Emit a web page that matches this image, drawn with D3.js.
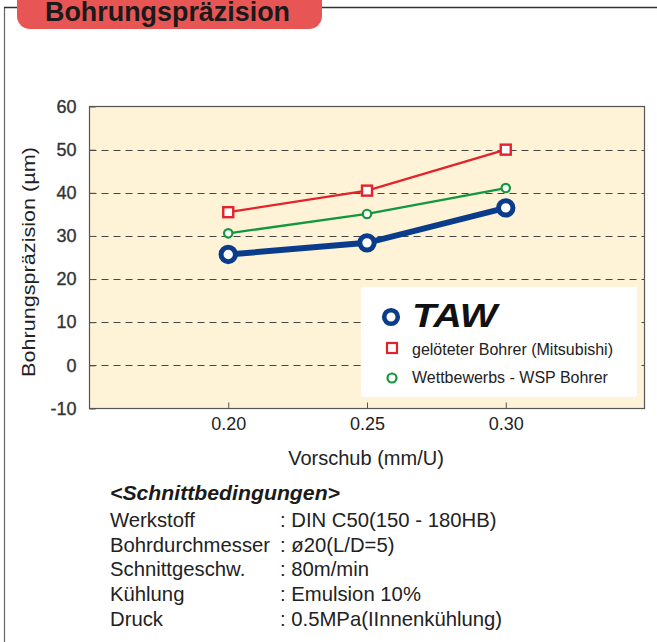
<!DOCTYPE html>
<html>
<head>
<meta charset="utf-8">
<script src="https://cdn.jsdelivr.net/npm/d3@7"></script>
<style>
  body { margin: 0; background: #fff; }
  text { font-family: "Liberation Sans", Arial, sans-serif; }
</style>
</head>
<body>
<div id="content"></div>
<script>
// daten
var feeds = [0.20, 0.25, 0.30];
var taw = [25.7, 28.4, 36.5];
var mitsubishi = [35.5, 40.5, 50.0];
var wsp = [30.6, 35.1, 41.1];
var yTicks = [-10, 0, 10, 20, 30, 40, 50, 60];
var gridTicks = [0, 10, 20, 30, 40, 50];
var xTicks = [0.20, 0.25, 0.30];
var conditions = [
  ["Werkstoff", ": DIN C50(150 - 180HB)"],
  ["Bohrdurchmesser", ": ø20(L/D=5)"],
  ["Schnittgeschw.", ": 80m/min"],
  ["Kühlung", ": Emulsion 10%"],
  ["Druck", ": 0.5MPa(IInnenkühlung)"]
];

var width = 657;
var height = 642;

var svg = d3.select("#content")
  .append("svg")
  .attr("width", width)
  .attr("height", height);

// rahmen + titel
svg.append("line").attr("x1", 4.5).attr("x2", 4.5).attr("y1", 7).attr("y2", height)
  .attr("stroke", "#666").attr("stroke-width", 1.2);
svg.append("line").attr("x1", 4).attr("x2", width).attr("y1", 7.5).attr("y2", 7.5)
  .attr("stroke", "#333").attr("stroke-width", 1.5);
svg.append("rect").attr("x", 17).attr("y", -16).attr("width", 305).attr("height", 45)
  .attr("rx", 13).attr("fill", "#E85555");
svg.append("text").attr("x", 45).attr("y", 21)
  .attr("font-size", 27).attr("font-weight", "bold").attr("fill", "#1a1a1a")
  .attr("textLength", 245).attr("lengthAdjust", "spacingAndGlyphs")
  .text("Bohrungspräzision");

// plot
var plotLeft = 89.5, plotRight = 644.5, plotTop = 106.5, plotBottom = 408.5;

var x = d3.scaleLinear().domain([0.15, 0.35]).range([plotLeft, plotRight]);
var y = d3.scaleLinear().domain([-10, 60]).range([plotBottom, plotTop]);

svg.append("rect").attr("x", plotLeft).attr("y", plotTop)
  .attr("width", plotRight - plotLeft).attr("height", plotBottom - plotTop)
  .attr("fill", "#FEF3D7");

svg.append("g").selectAll("line").data(gridTicks).enter().append("line")
  .attr("x1", plotLeft).attr("x2", plotRight)
  .attr("y1", function(d) { return Math.round(y(d)) + 0.5; })
  .attr("y2", function(d) { return Math.round(y(d)) + 0.5; })
  .attr("stroke", "#444").attr("stroke-width", 1.2)
  .attr("stroke-dasharray", "7,5");

// legende box
svg.append("rect").attr("x", 361).attr("y", 287).attr("width", 276).attr("height", 110)
  .attr("fill", "#fff");

svg.append("rect").attr("x", plotLeft).attr("y", plotTop)
  .attr("width", plotRight - plotLeft).attr("height", plotBottom - plotTop)
  .attr("fill", "none").attr("stroke", "#555").attr("stroke-width", 1.2);

var yAxis = svg.append("g").attr("transform", "translate(" + plotLeft + ",0)")
  .call(d3.axisLeft(y).tickValues(yTicks).tickSize(-6).tickPadding(13)
    .tickFormat(function(d) { return String(d); }));
yAxis.select(".domain").remove();
yAxis.selectAll("line").attr("stroke", "#555");
yAxis.selectAll("text").attr("font-size", 18).attr("fill", "#333")
  .attr("stroke", "#333").attr("stroke-width", 0.35)
  .style("font-family", "'Liberation Sans', Arial, sans-serif");

var xAxis = svg.append("g").attr("transform", "translate(0," + plotBottom + ")")
  .call(d3.axisBottom(x).tickValues(xTicks).tickSize(-6).tickPadding(9).tickFormat(d3.format(".2f")));
xAxis.select(".domain").remove();
xAxis.selectAll("line").attr("stroke", "#555");
xAxis.selectAll("text").attr("font-size", 18).attr("fill", "#222")
  .style("font-family", "'Liberation Sans', Arial, sans-serif");

svg.append("text").attr("x", 366).attr("y", 465).attr("text-anchor", "middle")
  .attr("font-size", 20).attr("fill", "#222").text("Vorschub (mm/U)");
svg.append("text").attr("transform", "translate(35,262) rotate(-90)").attr("text-anchor", "middle")
  .attr("font-size", 19).attr("fill", "#222")
  .attr("textLength", 230).attr("lengthAdjust", "spacingAndGlyphs")
  .text("Bohrungspräzision (µm)");

// linien
var line = d3.line()
  .x(function(d, i) { return x(feeds[i]); })
  .y(function(d) { return y(d); });

svg.append("path").datum(wsp).attr("d", line)
  .attr("fill", "none").attr("stroke", "#13973E").attr("stroke-width", 2.3);
svg.append("path").datum(mitsubishi).attr("d", line)
  .attr("fill", "none").attr("stroke", "#E3232B").attr("stroke-width", 2.3);
svg.append("path").datum(taw).attr("d", line)
  .attr("fill", "none").attr("stroke", "#0B3C8C").attr("stroke-width", 6);

svg.append("g").selectAll("circle").data(wsp).enter().append("circle")
  .attr("cx", function(d, i) { return x(feeds[i]); })
  .attr("cy", function(d) { return y(d); })
  .attr("r", 4.2).attr("fill", "#fff").attr("stroke", "#13973E").attr("stroke-width", 2.2);

svg.append("g").selectAll("rect").data(mitsubishi).enter().append("rect")
  .attr("x", function(d, i) { return x(feeds[i]) - 5; })
  .attr("y", function(d) { return y(d) - 5; })
  .attr("width", 10).attr("height", 10)
  .attr("fill", "#fff").attr("stroke", "#E3232B").attr("stroke-width", 2.4);

svg.append("g").selectAll("circle").data(taw).enter().append("circle")
  .attr("cx", function(d, i) { return x(feeds[i]); })
  .attr("cy", function(d) { return y(d); })
  .attr("r", 7.2).attr("fill", "#fff").attr("stroke", "#0B3C8C").attr("stroke-width", 5);

// legende
svg.append("circle").attr("cx", 391).attr("cy", 317).attr("r", 6.8)
  .attr("fill", "#fff").attr("stroke", "#0B3C8C").attr("stroke-width", 4.6);
svg.append("text").attr("x", 412).attr("y", 327)
  .attr("font-size", 33).attr("font-weight", "bold").attr("font-style", "italic")
  .attr("fill", "#111").attr("textLength", 85).attr("lengthAdjust", "spacingAndGlyphs")
  .text("TAW");
svg.append("rect").attr("x", 387).attr("y", 343).attr("width", 10).attr("height", 10)
  .attr("fill", "#fff").attr("stroke", "#E3232B").attr("stroke-width", 2.2);
svg.append("text").attr("x", 412).attr("y", 355).attr("font-size", 16).attr("fill", "#222")
  .text("gelöteter Bohrer (Mitsubishi)");
svg.append("circle").attr("cx", 392).attr("cy", 378).attr("r", 4.5)
  .attr("fill", "#fff").attr("stroke", "#13973E").attr("stroke-width", 2.2);
svg.append("text").attr("x", 412).attr("y", 383).attr("font-size", 16).attr("fill", "#222")
  .text("Wettbewerbs - WSP Bohrer");

// schnittbedingungen
svg.append("text").attr("x", 110).attr("y", 500)
  .attr("font-size", 20).attr("font-weight", "bold").attr("font-style", "italic").attr("fill", "#1a1a1a")
  .attr("textLength", 230).attr("lengthAdjust", "spacingAndGlyphs")
  .text("<Schnittbedingungen>");

var rows = svg.append("g").selectAll("g").data(conditions).enter().append("g")
  .attr("transform", function(d, i) { return "translate(0," + (527 + i * 24.7) + ")"; });
rows.append("text").attr("x", 110).attr("font-size", 20.3).attr("fill", "#222")
  .text(function(d) { return d[0]; });
rows.append("text").attr("x", 280).attr("font-size", 20.3).attr("fill", "#222")
  .text(function(d) { return d[1]; });
</script>
</body>
</html>
